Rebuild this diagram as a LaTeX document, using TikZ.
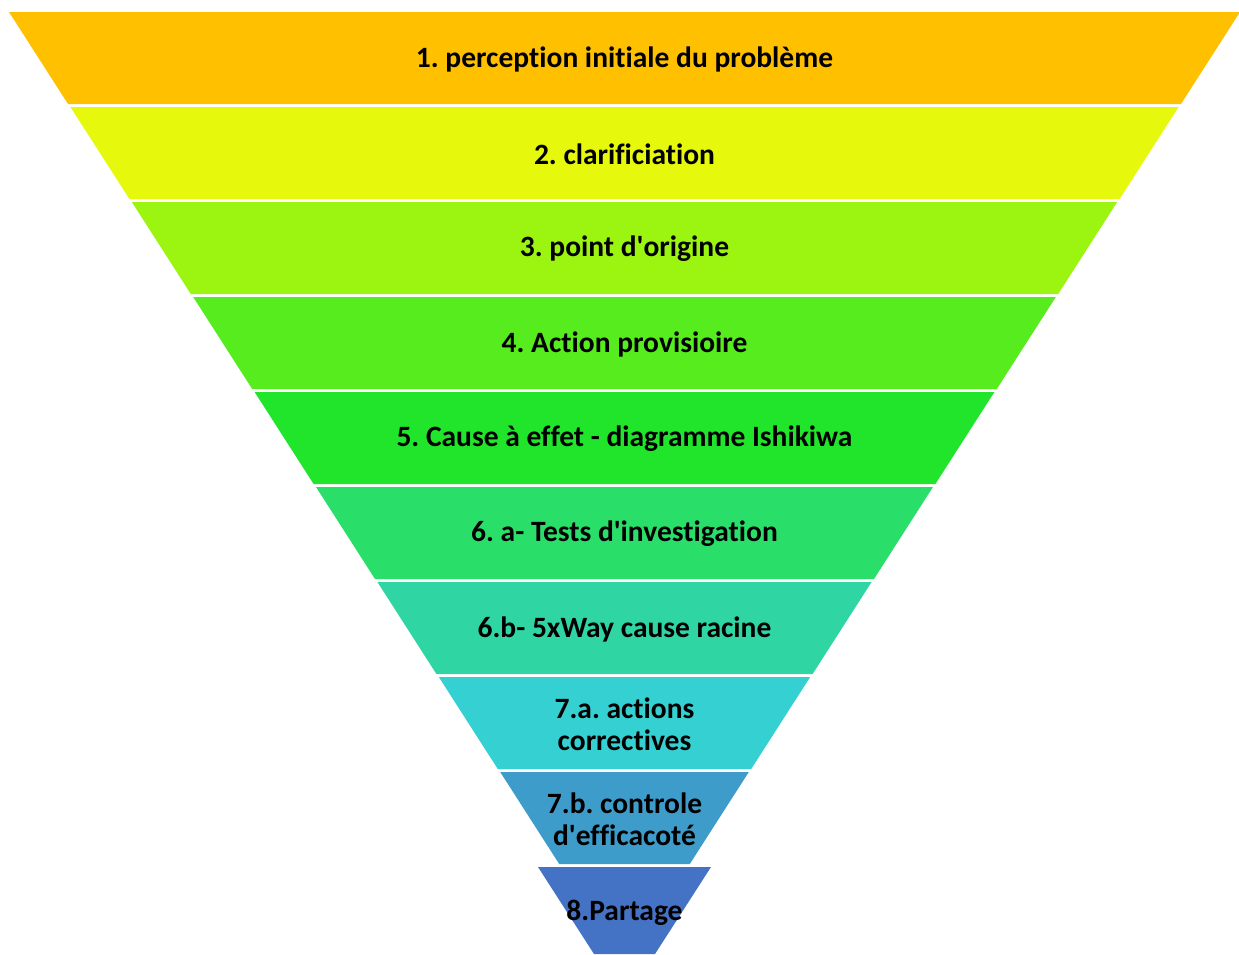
\documentclass[tikz,border=0pt]{standalone}
\usepackage{fontspec}
\setmainfont{Carlito}[Ligatures={NoCommon}]
\definecolor{c1}{HTML}{FFC000}
\definecolor{c2}{HTML}{E6F80B}
\definecolor{c3}{HTML}{9BF511}
\definecolor{c4}{HTML}{57EC1E}
\definecolor{c5}{HTML}{20E52B}
\definecolor{c6}{HTML}{29DF6A}
\definecolor{c7}{HTML}{2FD6A4}
\definecolor{c8}{HTML}{35D0D2}
\definecolor{c9}{HTML}{3E9CCB}
\definecolor{c10}{HTML}{4472C4}
\begin{document}
\frenchspacing
\begin{tikzpicture}[x=1pt,y=-1pt,
  lbl/.style={font=\bfseries\fontsize{29.5}{32}\selectfont, align=center, text=black, inner sep=0pt}]
\useasboundingbox (0,0) rectangle (1239,954);
\foreach \k/\c in {1/c1,2/c2,3/c3,4/c4,5/c5,6/c6,7/c7,8/c8,9/c9}{
  \pgfmathsetmacro{\ty}{12+95*(\k-1)}
  \pgfmathsetmacro{\by}{\ty+92}
  \pgfmathsetmacro{\ht}{615.5-61.4*(\k-1)}
  \pgfmathsetmacro{\hb}{\ht-59}
  \fill[\c] (624.5-\ht,\ty) -- (624.5+\ht,\ty) -- (624.5+\hb,\by) -- (624.5-\hb,\by) -- cycle;
}
\fill[c10] (538,867) -- (711,867) -- (655,954) -- (594,954) -- cycle;
\node[lbl] (t1) at (624.5,59) {1. perception initiale du problème};
\node[lbl] (t2) at (624.5,154) {2. clarificiation};
\node[lbl] (t3) at (624.5,249) {3. point d\textquotesingle origine};
\node[lbl] (t4) at (624.5,344) {4. Action provisioire};
\node[lbl] (t5) at (624.5,439) {5. Cause à effet - diagramme Ishikiwa};
\node[lbl] (t6) at (624.5,534) {6. a- Tests d\textquotesingle investigation};
\node[lbl] (t7) at (624.5,629) {6.b- 5xWay cause racine};
\node[lbl] (t8) at (624.5,724) {7.a. actions\\correctives};
\node[lbl] (t9) at (624.5,819) {7.b. controle\\d\textquotesingle efficacoté};
\node[lbl] (t10) at (624.5,913) {8.Partage};
\end{tikzpicture}
\end{document}
